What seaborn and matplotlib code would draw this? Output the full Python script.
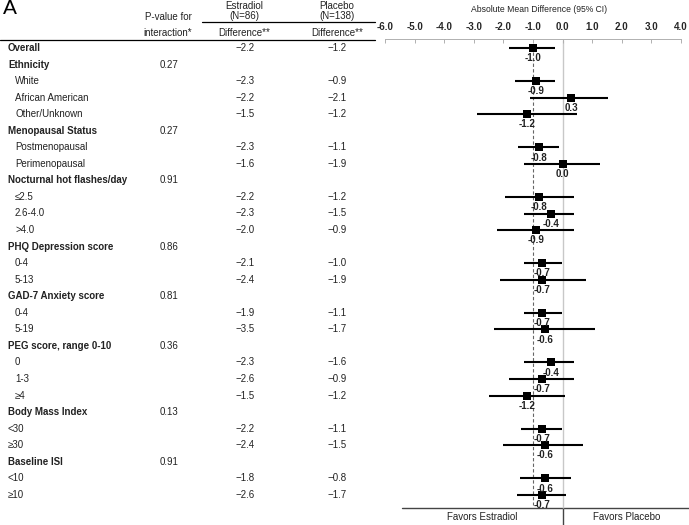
import numpy as np
import pandas as pd
import seaborn as sns
import matplotlib.pyplot as plt

sns.set_style("white")
plt.rcParams['font.family'] = ['Liberation Sans', 'DejaVu Sans']
plt.rcParams['text.color'] = '#222222'

# Строки таблицы (0 - заголовок группы, 1 - с отступом, 2 - без отступа)
labels = ["Overall", "Ethnicity", "White", "African American", "Other/Unknown",
          "Menopausal Status", "Postmenopausal", "Perimenopausal",
          "Nocturnal hot flashes/day", "≤2.5", "2.6-4.0", ">4.0",
          "PHQ Depression score", "0-4", "5-13",
          "GAD-7 Anxiety score", "0-4", "5-19",
          "PEG score, range 0-10", "0", "1-3", "≥4",
          "Body Mass Index", "<30", "≥30",
          "Baseline ISI", "<10", "≥10"]
level = [0, 0, 1, 1, 1, 0, 1, 1, 0, 1, 1, 1, 0, 1, 1, 0, 1, 1, 0, 1, 1, 1, 0, 2, 2, 0, 2, 2]
pvals = [None, "0.27", None, None, None, "0.27", None, None, "0.91", None, None, None,
         "0.86", None, None, "0.81", None, None, "0.36", None, None, None,
         "0.13", None, None, "0.91", None, None]
estradiol = [-2.2, None, -2.3, -2.2, -1.5, None, -2.3, -1.6, None, -2.2, -2.3, -2.0,
             None, -2.1, -2.4, None, -1.9, -3.5, None, -2.3, -2.6, -1.5,
             None, -2.2, -2.4, None, -1.8, -2.6]
placebo = [-1.2, None, -0.9, -2.1, -1.2, None, -1.1, -1.9, None, -1.2, -1.5, -0.9,
           None, -1.0, -1.9, None, -1.1, -1.7, None, -1.6, -0.9, -1.2,
           None, -1.1, -1.5, None, -0.8, -1.7]
mean_diff = [-1.0, None, -0.9, 0.3, -1.2, None, -0.8, 0.0, None, -0.8, -0.4, -0.9,
             None, -0.7, -0.7, None, -0.7, -0.6, None, -0.4, -0.7, -1.2,
             None, -0.7, -0.6, None, -0.6, -0.7]
ci_low = [-1.82, None, -1.62, -1.1, -2.9, None, -1.52, -1.32, None, -1.93, -1.32, -2.22,
          None, -1.32, -2.1, None, -1.32, -2.32, None, -1.32, -1.82, -2.5,
          None, -1.42, -2.0, None, -1.45, -1.55]
ci_high = [-0.24, None, -0.24, 1.55, 0.47, None, -0.13, 1.25, None, 0.37, 0.37, 0.37,
           None, -0.03, 0.78, None, -0.03, 1.08, None, 0.37, 0.37, 0.07,
           None, -0.03, 0.68, None, 0.27, 0.1]
x_ticks = [-6.0, -5.0, -4.0, -3.0, -2.0, -1.0, 0.0, 1.0, 2.0, 3.0, 4.0]

df = pd.DataFrame({"label": labels, "level": level, "pval": pvals,
                   "est": estradiol, "plc": placebo, "diff": mean_diff,
                   "lo": ci_low, "hi": ci_high})
df["row"] = np.arange(len(df))
pts = df.dropna(subset=["diff"])

W, H = 689, 525
y0, dy = 48, 16.55  # положение первой строки и шаг, пиксели
fig = plt.figure(figsize=(W / 100, H / 100), dpi=100)

# фон-таблица в пиксельных координатах
bg = fig.add_axes([0, 0, 1, 1])
bg.set_xlim(0, W)
bg.set_ylim(H, 0)
bg.axis("off")

fs = 7
bg.text(3, 9, "A", fontsize=15, va="center", ha="left", color="black")
bg.text(168, 17, "P-value for", fontsize=fs, ha="center", va="center")
bg.text(168, 33, "interaction*", fontsize=fs, ha="center", va="center")
bg.text(244, 6, "Estradiol", fontsize=fs, ha="center", va="center")
bg.text(244, 16, "(N=86)", fontsize=fs, ha="center", va="center")
bg.text(337, 6, "Placebo", fontsize=fs, ha="center", va="center")
bg.text(337, 16, "(N=138)", fontsize=fs, ha="center", va="center")
bg.text(244, 33, "Difference**", fontsize=fs, ha="center", va="center")
bg.text(337, 33, "Difference**", fontsize=fs, ha="center", va="center")
bg.plot([202, 375], [22, 22], color="black", lw=0.9)
bg.plot([0, 375], [40, 40], color="black", lw=0.9)
bg.text(539, 10, "Absolute Mean Difference (95% CI)", fontsize=6.2, ha="center", va="center")

for _, r in df.iterrows():
    y = y0 + dy * r["row"]
    xl = 15 if r["level"] == 1 else 8
    bg.text(xl, y, r["label"], fontsize=fs, ha="left", va="center",
            fontweight="bold" if r["level"] == 0 else "normal")
    if r["pval"] is not None:
        bg.text(160, y, r["pval"], fontsize=fs, ha="left", va="center")
    if not pd.isna(r["est"]):
        bg.text(245, y, f"{r['est']:.1f}".replace("-", "\u2212"), fontsize=fs, ha="center", va="center")
        bg.text(337, y, f"{r['plc']:.1f}".replace("-", "\u2212"), fontsize=fs, ha="center", va="center")

# низ: Favors
bg.plot([402, W], [508, 508], color="#444444", lw=1.0)
bg.plot([563, 563], [508, H], color="#444444", lw=1.0)
bg.text(482, 517, "Favors Estradiol", fontsize=fs, ha="center", va="center")
bg.text(627, 517, "Favors Placebo", fontsize=fs, ha="center", va="center")

# форест-плот
left, right = 385 / W, 681 / W
ax = fig.add_axes([left, 0, right - left, 1])
ax.set_xlim(-6, 4)
ax.set_ylim((H - y0) / dy, -y0 / dy)
ax.axis("off")
ax.patch.set_alpha(0)

top_row, bot_row = (40 - y0) / dy, (508 - y0) / dy
ax.vlines(0, top_row, bot_row, color="#c8c8c8", lw=1.0)
ax.vlines(df["diff"].iloc[0], (52 - y0) / dy, (505 - y0) / dy, color="#666666", lw=0.8,
          linestyles=(0, (3, 2)))
ax.hlines(pts["row"], pts["lo"], pts["hi"], color="black", lw=1.5)
sns.scatterplot(data=pts, x="diff", y="row", marker="s", s=28, color="black",
                edgecolor="black", linewidth=0, ax=ax, zorder=3)
ax.set_xlabel("")
ax.set_ylabel("")
for _, r in pts.iterrows():
    ax.text(r["diff"], r["row"] + 0.62, f"{r['diff']:.1f}", fontsize=fs,
            fontweight="bold", ha="center", va="center")

# верхняя ось
axt = fig.add_axes([left, (H - 39) / H, right - left, 0.0001])
axt.set_xlim(-6, 4)
axt.patch.set_alpha(0)
for s in ["left", "right", "bottom"]:
    axt.spines[s].set_visible(False)
axt.spines["top"].set_color("#b0b0b0")
axt.spines["top"].set_linewidth(0.7)
axt.set_yticks([])
axt.xaxis.tick_top()
axt.set_xticks(x_ticks)
axt.set_xticklabels([f"{t:.1f}" for t in x_ticks], fontsize=fs, fontweight="bold")
axt.tick_params(axis="x", direction="in", length=3, color="#b0b0b0", pad=5, width=0.7)

fig.savefig("out.png", dpi=100)
